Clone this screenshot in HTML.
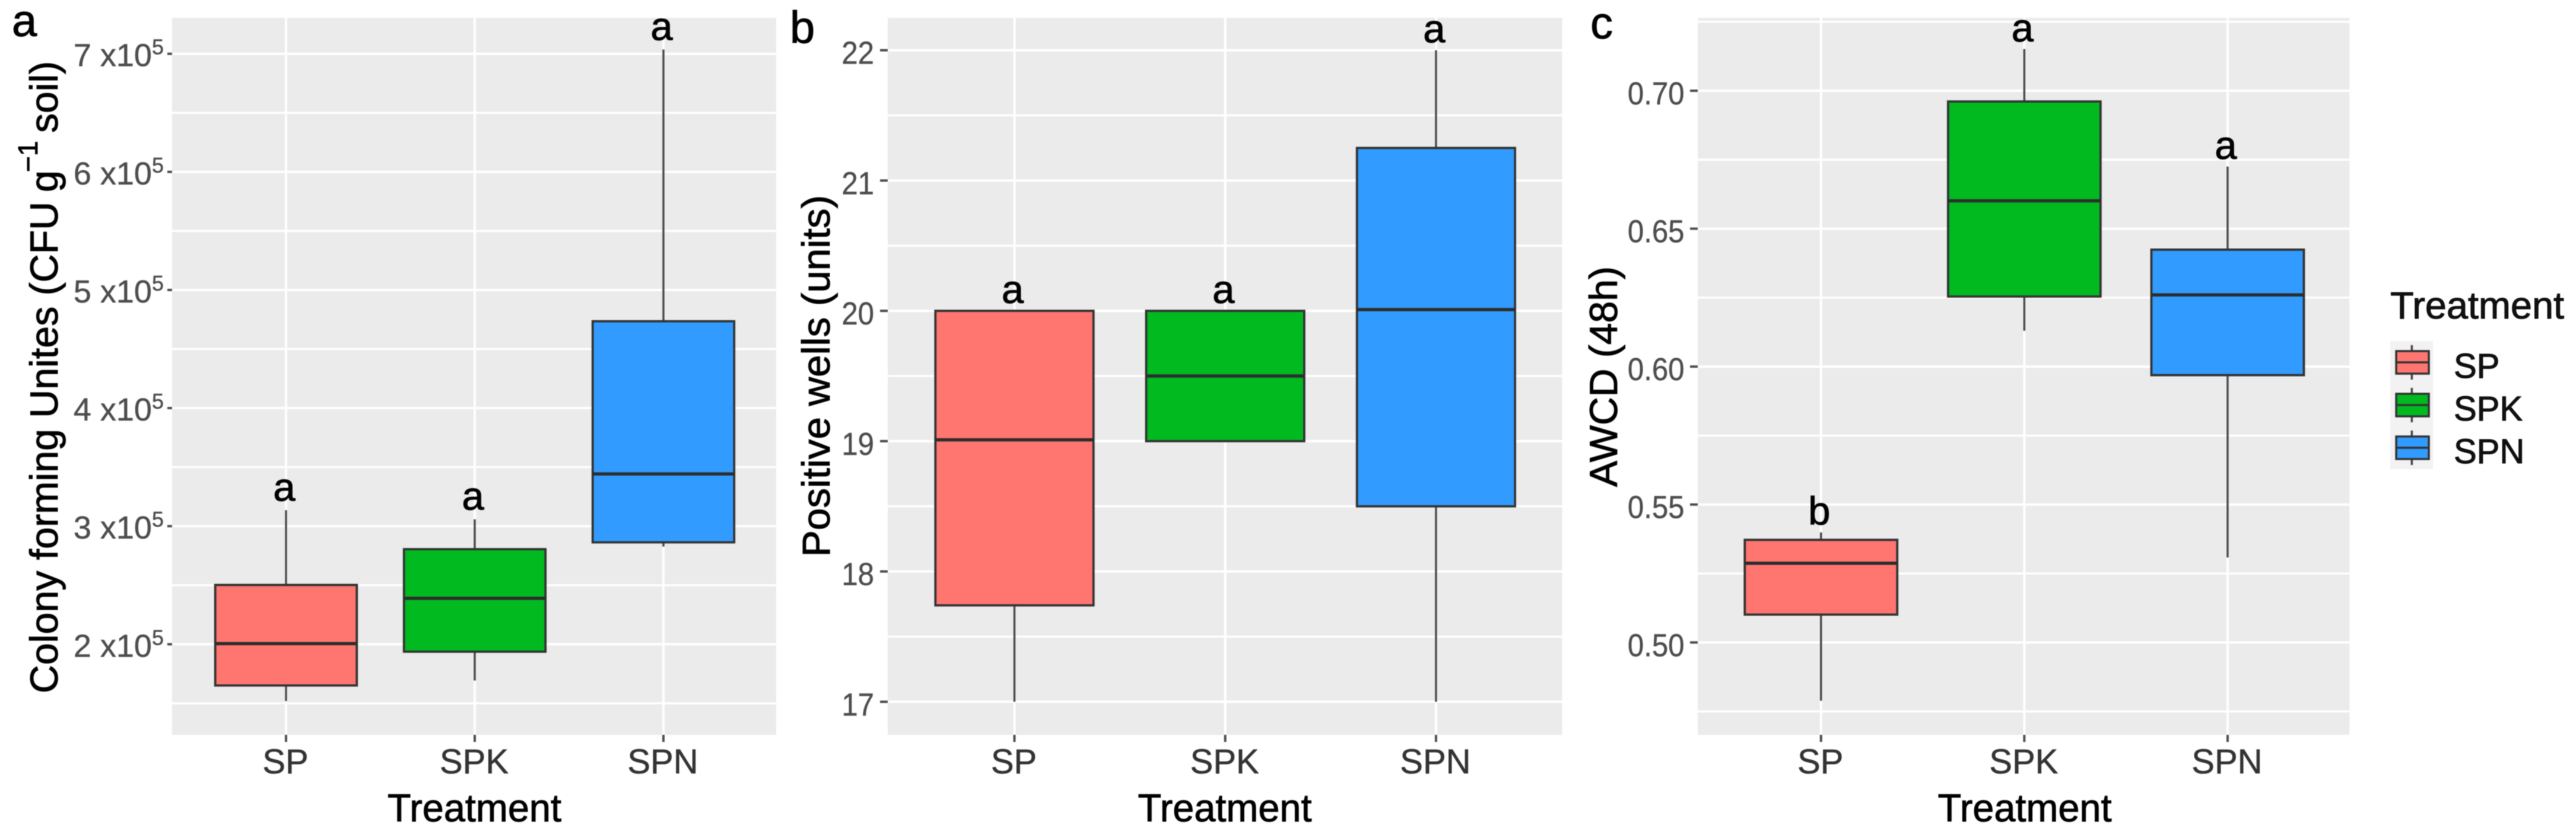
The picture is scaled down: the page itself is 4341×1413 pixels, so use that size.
<!DOCTYPE html>
<html lang="en">
<head>
<meta charset="utf-8">
<title>Treatment boxplots</title>
<style>
html,body{margin:0;padding:0;background:#fff;}
body{width:4341px;height:1413px;overflow:hidden;}
svg{display:block;filter:blur(0.9px);}
text{font-family:"Liberation Sans",Arial,sans-serif;}
text[fill="#000"],text[fill="#111"]{stroke:#000;stroke-width:1px;}
text[fill="#333"]{stroke:#333;stroke-width:0.6px;}
text[fill="#4d4d4d"]{stroke:#4d4d4d;stroke-width:0.5px;}
</style>
</head>
<body>
<svg id="figure" xmlns="http://www.w3.org/2000/svg" width="4341" height="1413" viewBox="0 0 4341 1413"></svg>
<script>
// Shared data
const categories = ["SP", "SPK", "SPN"];
const fillColors = ["#ff7670", "#00ba20", "#319bff"];

// Panel a: colony forming units
const cfuTicks = [200000, 300000, 400000, 500000, 600000, 700000];
const cfuHigh = [313500, 305800, 703600];
const cfuQ3 = [250200, 280500, 473500];
const cfuMedian = [200500, 238900, 344200];
const cfuQ1 = [165100, 193700, 286300];
const cfuLow = [151900, 169300, 282700];
const cfuLetters = ["a", "a", "a"];

// Panel b: positive wells
const wellsTicks = [17, 18, 19, 20, 21, 22];
const wellsHigh = [20, 20, 22];
const wellsQ3 = [20, 20, 21.25];
const wellsMedian = [19.01, 19.5, 20.01];
const wellsQ1 = [17.74, 19, 18.5];
const wellsLow = [17, 19, 17];
const wellsLetters = ["a", "a", "a"];

// Panel c: AWCD
const awcdTicks = [0.50, 0.55, 0.60, 0.65, 0.70];
const awcdHigh = [0.5399, 0.7151, 0.6725];
const awcdQ3 = [0.5372, 0.6961, 0.6424];
const awcdMedian = [0.5287, 0.6601, 0.626];
const awcdQ1 = [0.5101, 0.6254, 0.5969];
const awcdLow = [0.4789, 0.613, 0.5308];
const awcdLetters = ["b", "a", "a"];

const NS = "http://www.w3.org/2000/svg";
const fig = document.getElementById("figure");
const TOP = 30, BOTTOM = 1239;

function mk(tag, attrs, parent, txt) {
  const el = document.createElementNS(NS, tag);
  for (const k in attrs) el.setAttribute(k, attrs[k]);
  if (txt !== undefined) el.textContent = txt;
  (parent || fig).appendChild(el);
  return el;
}

function drawPanel(p) {
  const g = mk("g", {});
  
  

  const yOf = v => p.y0 + (v - p.v0) * (p.y1 - p.y0) / (p.v1 - p.v0);
  const xOf = i => p.x1 + i * p.unit;

  const bg = mk("rect", {x: p.left, y: TOP, width: p.right - p.left, height: BOTTOM - TOP, fill: "#ebebeb"}, g);
  
  

  // Minor grid lines sit midway between the major ticks
  const step = p.ticks[1] - p.ticks[0];
  for (let i = -1; i < p.ticks.length; i++) {
    const yy = yOf(p.ticks[0] + (i + 0.5) * step);
    if (yy < TOP || yy > BOTTOM) continue;
    const line = mk("line", {x1: p.left, x2: p.right, y1: yy, y2: yy, stroke: "#fff", "stroke-width": 3.5}, g);
    
    
  }

  p.ticks.forEach(v => {
    const yy = yOf(v);
    const grid = mk("line", {x1: p.left, x2: p.right, y1: yy, y2: yy, stroke: "#fff", "stroke-width": 4}, g);
    
    

    const tick = mk("line", {x1: p.left - p.tickLen, x2: p.left, y1: yy, y2: yy, stroke: "#4d4d4d", "stroke-width": 4}, g);
    
    

    const label = mk("text", {
      transform: "translate(" + p.labelRight + "," + (yy + p.labelDy) + ") scale(" + p.labelScale + ",1)",
      "text-anchor": "end", "font-size": 54, fill: "#4d4d4d"
    }, g);
    
    
    if (p.sci) {
      const t1 = mk("tspan", {}, label, (v / 100000) + " x10");
      
      
      const t2 = mk("tspan", {"font-size": 36, dy: -20}, label, "5");
      
      
    } else {
      label.textContent = v.toFixed(p.decimals);
    }
  });

  categories.forEach((c, i) => {
    const cx = xOf(i);
    const vg = mk("line", {x1: cx, x2: cx, y1: TOP, y2: BOTTOM, stroke: "#fff", "stroke-width": 4}, g);
    
    

    const tk = mk("line", {x1: cx, x2: cx, y1: BOTTOM, y2: BOTTOM + 12, stroke: "#4d4d4d", "stroke-width": 4}, g);
    
    

    const lb = mk("text", {x: cx - 1, y: 1304, "text-anchor": "middle", "font-size": 58, fill: "#333"}, g, c);
    
    
  });

  categories.forEach((c, i) => {
    const cx = xOf(i), hw = p.unit * 0.375;
    const wu = mk("line", {x1: cx, x2: cx, y1: yOf(p.high[i]), y2: yOf(p.q3[i]), stroke: "#4a4a4a", "stroke-width": 3.5}, g);
    
    

    const wl = mk("line", {x1: cx, x2: cx, y1: yOf(p.q1[i]), y2: yOf(p.low[i]), stroke: "#4a4a4a", "stroke-width": 3.5}, g);
    
    

    const box = mk("rect", {x: cx - hw, y: yOf(p.q3[i]), width: hw * 2, height: yOf(p.q1[i]) - yOf(p.q3[i]),
      fill: fillColors[i], stroke: "#333", "stroke-width": 3.8}, g);
    
    

    const med = mk("line", {x1: cx - hw, x2: cx + hw, y1: yOf(p.median[i]), y2: yOf(p.median[i]), stroke: "#2d2d2d", "stroke-width": 5.5}, g);
    
    

    const sig = mk("text", {x: cx - 3, y: yOf(p.high[i]) - p.letterGap, "text-anchor": "middle", "font-size": 67, fill: "#000"}, g, p.letters[i]);
    
    
  });

  const xt = mk("text", {x: p.titleX, y: 1385, "text-anchor": "middle", "font-size": 66, fill: "#000",
    textLength: 293, lengthAdjust: "spacingAndGlyphs"}, g, "Treatment");
  
  

  const pl = mk("text", {x: p.letterX, y: p.letterY, "font-size": 76, fill: "#000"}, g, p.letter);
  
  

  return g;
}

const panelA = drawPanel({name: "panel-a-colony-forming-units", left: 290, right: 1308, x1: 482, unit: 318,
  v0: 200000, y0: 1086.3, v1: 700000, y1: 90.7, ticks: cfuTicks, tickLen: 8, labelRight: 276, labelDy: 21, labelScale: 1,
  sci: true, decimals: 0, high: cfuHigh, q3: cfuQ3, median: cfuMedian, q1: cfuQ1, low: cfuLow, letters: cfuLetters,
  letterGap: 16, titleX: 799.5, letter: "a", letterX: 20, letterY: 61});

const panelB = drawPanel({name: "panel-b-positive-wells", left: 1496, right: 2632.5, x1: 1709.5, unit: 355.2,
  v0: 17, y0: 1183.3, v1: 22, y1: 84.7, ticks: wellsTicks, tickLen: 13, labelRight: 1473, labelDy: 23, labelScale: 0.91,
  sci: false, decimals: 0, high: wellsHigh, q3: wellsQ3, median: wellsMedian, q1: wellsQ1, low: wellsLow, letters: wellsLetters,
  letterGap: 13, titleX: 2064, letter: "b", letterX: 1331, letterY: 72});

const panelC = drawPanel({name: "panel-c-awcd", left: 2861, right: 3959.3, x1: 3068.7, unit: 342.6,
  v0: 0.50, y0: 1083.3, v1: 0.70, y1: 153, ticks: awcdTicks, tickLen: 13, labelRight: 2838.5, labelDy: 23, labelScale: 0.91,
  sci: false, decimals: 2, high: awcdHigh, q3: awcdQ3, median: awcdMedian, q1: awcdQ1, low: awcdLow, letters: awcdLetters,
  letterGap: 13, titleX: 3412, letter: "c", letterX: 2680, letterY: 65});

// Y axis titles
const titleA = mk("text", {transform: "translate(97,1169) rotate(-90)", "font-size": 66, fill: "#000"}, panelA);


const titleA1 = mk("tspan", {x: 0, textLength: 829, lengthAdjust: "spacingAndGlyphs"}, titleA, "Colony forming Unites (CFU");


const titleA2 = mk("tspan", {x: 845}, titleA, "g");


const titleA3 = mk("tspan", {x: 879, dy: -34, "font-size": 46}, titleA, "\u22121");


const titleA4 = mk("tspan", {x: 945, dy: 34}, titleA, "soil)");



const titleB = mk("text", {transform: "translate(1398,939) rotate(-90)", "font-size": 66, fill: "#000",
  textLength: 610, lengthAdjust: "spacingAndGlyphs"}, panelB, "Positive wells (units)");



const titleC = mk("text", {transform: "translate(2725,821) rotate(-90)", "font-size": 66, fill: "#000",
  textLength: 372, lengthAdjust: "spacingAndGlyphs"}, panelC, "AWCD (48h)");



// Legend
const legend = mk("g", {});



const legendTitle = mk("text", {x: 4028, y: 537, "font-size": 64, fill: "#111", textLength: 293, lengthAdjust: "spacingAndGlyphs"}, legend, "Treatment");



categories.forEach((c, i) => {
  const top = 575 + i * 72;
  const entry = mk("g", {}, legend);
  
  

  const keyBg = mk("rect", {x: 4028, y: top, width: 72, height: 72, fill: "#f2f2f2"}, entry);
  
  

  const wsk = mk("line", {x1: 4064.3, x2: 4064.3, y1: top + 7, y2: top + 65, stroke: "#444", "stroke-width": 3.5}, entry);
  
  

  const kb = mk("rect", {x: 4038, y: top + 17, width: 55, height: 38, fill: fillColors[i], stroke: "#333", "stroke-width": 3.5}, entry);
  
  

  const km = mk("line", {x1: 4038, x2: 4093, y1: top + 36, y2: top + 36, stroke: "#333", "stroke-width": 3.5}, entry);
  
  

  const kt = mk("text", {x: 4135, y: top + 62, "font-size": 58, fill: "#111"}, entry, c);
  
  
});
</script>
</body>
</html>
